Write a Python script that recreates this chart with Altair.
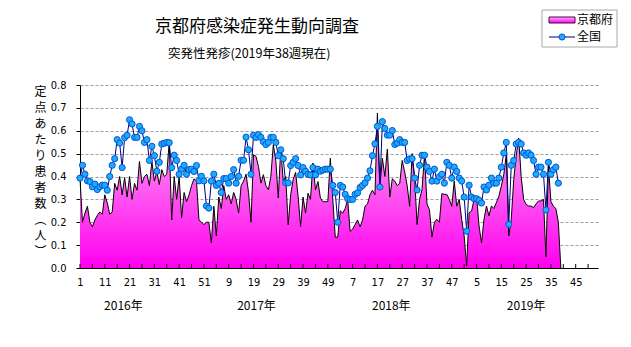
import altair as alt
import pandas as pd

# ---- data ----
kyoto = [
    0.39, 0.20, 0.24, 0.27, 0.20, 0.18, 0.21, 0.23, 0.245, 0.235,
    0.32, 0.285, 0.235, 0.245, 0.37, 0.34, 0.40, 0.32, 0.395, 0.31,
    0.40, 0.30, 0.37, 0.34, 0.466, 0.37, 0.40, 0.41, 0.36, 0.466,
    0.38, 0.42, 0.365, 0.43, 0.40, 0.41, 0.55, 0.21, 0.40, 0.30,
    0.40, 0.22, 0.33, 0.29, 0.32, 0.36, 0.39, 0.38, 0.21, 0.20,
    0.19, 0.20, 0.20, 0.11, 0.27, 0.14, 0.31, 0.26, 0.36, 0.30,
    0.32, 0.28, 0.33, 0.30, 0.24, 0.36, 0.38, 0.41, 0.33, 0.20,
    0.495, 0.488, 0.444, 0.371, 0.408, 0.36, 0.342, 0.40, 0.539, 0.47,
    0.306, 0.524, 0.38, 0.40, 0.189, 0.32, 0.386, 0.418, 0.313, 0.182,
    0.31, 0.24, 0.327, 0.30, 0.459, 0.342, 0.378, 0.306, 0.29, 0.29,
    0.29, 0.48, 0.30, 0.135, 0.135, 0.25, 0.24, 0.26, 0.30, 0.16,
    0.17, 0.19, 0.21, 0.18, 0.21, 0.27, 0.28, 0.32, 0.34, 0.32,
    0.677, 0.36, 0.48, 0.40, 0.52, 0.31, 0.39, 0.38, 0.36, 0.37,
    0.47, 0.42, 0.36, 0.27, 0.50, 0.40, 0.19, 0.30, 0.343, 0.496,
    0.28, 0.255, 0.135, 0.20, 0.213, 0.20, 0.325, 0.322, 0.322, 0.30,
    0.27, 0.38, 0.27, 0.30, 0.213, 0.14, 0.01, 0.242, 0.249, 0.30,
    0.314, 0.184, 0.11, 0.213, 0.271, 0.228, 0.271, 0.26, 0.286, 0.314,
    0.358, 0.41, 0.496, 0.14, 0.213, 0.387, 0.49, 0.568, 0.40, 0.30,
    0.278, 0.271, 0.271, 0.264, 0.28, 0.293, 0.293, 0.30, 0.05, 0.45,
    0.29, 0.27, 0.26, 0.20, 0.0,
]

zenkoku = [
    0.393, 0.449, 0.41, 0.381, 0.378, 0.355, 0.367, 0.343, 0.355, 0.362,
    0.362, 0.34, 0.40, 0.449, 0.478, 0.561, 0.546, 0.439, 0.57, 0.58,
    0.648, 0.63, 0.571, 0.571, 0.619, 0.60, 0.549, 0.561, 0.47, 0.532,
    0.491, 0.423, 0.462, 0.542, 0.545, 0.549, 0.548, 0.439, 0.493, 0.47,
    0.41, 0.432, 0.449, 0.41, 0.43, 0.432, 0.422, 0.448, 0.381, 0.401,
    0.381, 0.271, 0.262, 0.38, 0.41, 0.361, 0.37, 0.33, 0.391, 0.391,
    0.371, 0.40, 0.43, 0.371, 0.401, 0.471, 0.471, 0.572, 0.517, 0.41,
    0.58, 0.571, 0.583, 0.571, 0.552, 0.54, 0.549, 0.571, 0.571, 0.549,
    0.491, 0.517, 0.478, 0.372, 0.372, 0.448, 0.462, 0.478, 0.448, 0.407,
    0.439, 0.423, 0.41, 0.407, 0.439, 0.407, 0.432, 0.423, 0.428, 0.432,
    0.432, 0.432, 0.361, 0.33, 0.20, 0.361, 0.354, 0.322, 0.303, 0.30,
    0.30, 0.322, 0.329, 0.352, 0.361, 0.372, 0.393, 0.425, 0.491, 0.543,
    0.619, 0.354, 0.64, 0.61, 0.581, 0.581, 0.601, 0.54, 0.546, 0.561,
    0.549, 0.549, 0.47, 0.477, 0.478, 0.393, 0.341, 0.449, 0.493, 0.493,
    0.441, 0.422, 0.38, 0.432, 0.38, 0.399, 0.41, 0.371, 0.462, 0.449,
    0.393, 0.441, 0.422, 0.393, 0.38, 0.31, 0.161, 0.362, 0.31, 0.303,
    0.303, 0.296, 0.284, 0.354, 0.341, 0.362, 0.393, 0.371, 0.371, 0.393,
    0.441, 0.503, 0.549, 0.191, 0.449, 0.47, 0.542, 0.549, 0.542, 0.503,
    0.493, 0.503, 0.493, 0.47, 0.41, 0.441, 0.441, 0.41, 0.254, 0.462,
    0.41, 0.43, 0.441, 0.371,
]

x_label_values = list(range(1, 202, 10))      # 1, 11, ... (labels shown as week of year)
x_minor_ticks = list(range(1, 210, 5))
y_values = [0.0, 0.1, 0.2, 0.3, 0.4, 0.5, 0.6, 0.7, 0.8]
year_labels = ["2016年", "2017年", "2018年", "2019年"]
year_pos = [18.5, 72.2, 126.6, 181.0]

TITLE = "京都府感染症発生動向調査"
SUBTITLE = "突発性発疹(2019年38週現在)"
YTITLE = ["定", "点", "あ", "た", "り", "患", "者", "数", "︵", "人", "︶"]
LEG_K = "京都府"
LEG_Z = "全国"

JP = "Noto Sans CJK JP"
NARROW = "'Liberation Sans Narrow', 'DejaVu Sans Condensed', sans-serif"

W, H = 518, 183

df_k = pd.DataFrame({"week": list(range(1, len(kyoto) + 1)), "value": kyoto})
df_z = pd.DataFrame({"week": list(range(1, len(zenkoku) + 1)), "value": zenkoku})
df_ticks = pd.DataFrame({"week": x_minor_ticks})
df_years = pd.DataFrame({"week": year_pos, "label": year_labels})
one = pd.DataFrame({"a": [0]})

xscale = alt.Scale(domain=[1, 210], nice=False, zero=False)
yscale = alt.Scale(domain=[0, 0.8], nice=False)

x_axis = alt.Axis(
    values=x_label_values,
    labelExpr="((datum.value - 1) % 52) + 1",
    ticks=False, grid=False, domainColor="black", domainWidth=1,
    labelFont=NARROW, labelFontSize=11, labelColor="black",
    labelPadding=8, labelFlush=False, labelOverlap=False, title=None,
)
y_axis = alt.Axis(
    values=y_values, format=".1f",
    grid=True, gridColor="#a0a0a0", gridDash=[3, 2], gridWidth=1,
    domainColor="black", tickColor="black", tickSize=4,
    labelFont=NARROW, labelFontSize=11, labelColor="black", labelPadding=10,
    title=YTITLE, titleAngle=0, titleFont=JP, titleFontSize=12,
    titleFontWeight="normal", titleColor="black", titleLineHeight=16,
    titleAlign="center", titleBaseline="top", titleX=-40, titleY=1,
)

x_enc = alt.X("week:Q", scale=xscale, axis=x_axis)
y_enc = alt.Y("value:Q", scale=yscale, axis=y_axis)

grad = alt.Gradient(
    gradient="linear",
    stops=[alt.GradientStop(color="#ffb4f2", offset=0),
           alt.GradientStop(color="#ff00f0", offset=1)],
    x1=0, x2=0, y1=0, y2=1,
)

area = alt.Chart(df_k).mark_area(color=grad, opacity=1).encode(x=x_enc, y=y_enc)
kline = alt.Chart(df_k).mark_line(color="black", strokeWidth=1).encode(x=x_enc, y=y_enc)
zline = alt.Chart(df_z).mark_line(color="#000080", strokeWidth=1).encode(x=x_enc, y=y_enc)
zpts = alt.Chart(df_z).mark_point(
    shape="circle", filled=True, size=38, fill="#20aaff",
    stroke="#0058d0", strokeWidth=1, opacity=1,
).encode(x=x_enc, y=y_enc)

ticks = alt.Chart(df_ticks).mark_rule(color="black", strokeWidth=1).encode(
    x=alt.X("week:Q", scale=xscale, axis=x_axis),
    y=alt.value(H), y2=alt.value(H - 4),
)

years = alt.Chart(df_years).mark_text(
    font=JP, fontSize=12, color="black", baseline="middle", align="center"
).encode(
    x=alt.X("week:Q", scale=xscale, axis=x_axis),
    y=alt.value(221), text="label:N",
)

title = alt.Chart(one).mark_text(
    text=TITLE, font=JP, fontSize=17, color="black", align="center", baseline="middle"
).encode(x=alt.value(177), y=alt.value(-58))
subtitle = alt.Chart(one).mark_text(
    text=SUBTITLE, font=JP, fontSize=12.5, color="black", align="left", baseline="middle"
).encode(x=alt.value(88), y=alt.value(-31))

# legend box
leg_box = alt.Chart(one).mark_rect(fill="white", stroke="#a8a8a8", strokeWidth=1).encode(
    x=alt.value(462), x2=alt.value(537), y=alt.value(-75), y2=alt.value(-38)
)
leg_sw = alt.Chart(one).mark_rect(color=grad, stroke="#500050", strokeWidth=1).encode(
    x=alt.value(469), x2=alt.value(495), y=alt.value(-68), y2=alt.value(-62)
)
leg_kt = alt.Chart(one).mark_text(
    text=LEG_K, font=JP, fontSize=12, color="black", align="left", baseline="middle"
).encode(x=alt.value(497), y=alt.value(-65))
leg_zl = alt.Chart(one).mark_rule(color="#000080", strokeWidth=1).encode(
    x=alt.value(469), x2=alt.value(495), y=alt.value(-48)
)
leg_zp = alt.Chart(one).mark_point(
    shape="circle", filled=True, size=38, fill="#20aaff", stroke="#0058d0",
    strokeWidth=1, opacity=1,
).encode(x=alt.value(482), y=alt.value(-48))
leg_zt = alt.Chart(one).mark_text(
    text=LEG_Z, font=JP, fontSize=12, color="black", align="left", baseline="middle"
).encode(x=alt.value(497), y=alt.value(-48))

chart = alt.layer(
    area, kline, ticks, zline, zpts, years, title, subtitle,
    leg_box, leg_sw, leg_kt, leg_zl, leg_zp, leg_zt,
).properties(
    width=W, height=H,
    autosize=alt.AutoSizeParams(type="none"),
    padding={"left": 80, "top": 85, "right": 33, "bottom": 79},
    background="white",
).configure_view(strokeWidth=0)

chart.save("out.html", embed_options={"renderer": "svg", "actions": False})
